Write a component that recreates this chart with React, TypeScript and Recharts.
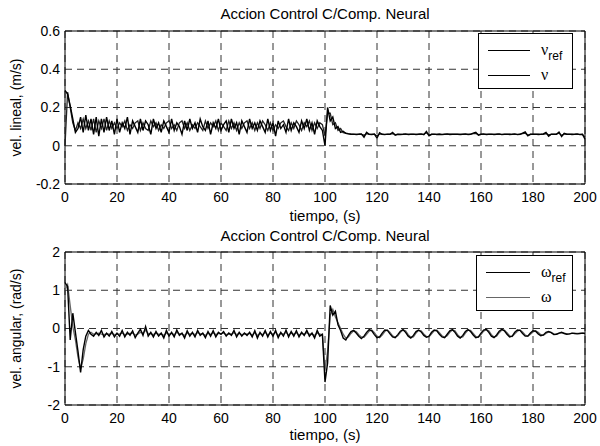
import { LineChart, Line, XAxis, YAxis, CartesianGrid, ReferenceArea } from 'recharts';

// tiempo en segundos, una muestra por segundo
const tiempo = Array.from({ length: 201 }, (_, i) => i);

// velocidad lineal de referencia y medida (m/s)
const vRef = [
  0.29, 0.27, 0.21, 0.14, 0.07, 0.09, 0.15, 0.07, 0.16, 0.08,
  0.14, 0.06, 0.15, 0.05, 0.14, 0.07, 0.15, 0.08, 0.13, 0.06,
  0.14, 0.07, 0.12, 0.09, 0.15, 0.06, 0.13, 0.1, 0.07, 0.14,
  0.08, 0.13, 0.11, 0.06, 0.14, 0.09, 0.12, 0.07, 0.13, 0.1,
  0.07, 0.14, 0.08, 0.12, 0.1, 0.06, 0.13, 0.08, 0.14, 0.09,
  0.12, 0.07, 0.14, 0.1, 0.08, 0.13, 0.06, 0.12, 0.09, 0.14,
  0.08, 0.11, 0.13, 0.07, 0.14, 0.09, 0.12, 0.06, 0.13, 0.1,
  0.07, 0.14, 0.09, 0.12, 0.08, 0.13, 0.1, 0.07, 0.14, 0.08,
  0.12, 0.05, 0.13, 0.09, 0.11, 0.07, 0.14, 0.08, 0.12, 0.1,
  0.07, 0.13, 0.09, 0.14, 0.08, 0.12, 0.06, 0.13, 0.1, 0.08,
  0.0, 0.2, 0.13, 0.15, 0.09, 0.1, 0.07, 0.075, 0.065, 0.062,
  0.06, 0.061, 0.059, 0.06, 0.062, 0.045, 0.07, 0.06, 0.059, 0.061,
  0.04, 0.068, 0.06, 0.058, 0.061, 0.06, 0.07, 0.055, 0.06, 0.059,
  0.06, 0.062, 0.058, 0.06, 0.061, 0.059, 0.06, 0.062, 0.058, 0.075,
  0.052, 0.06, 0.061, 0.059, 0.06, 0.058, 0.06, 0.062, 0.059, 0.06,
  0.061, 0.06, 0.058, 0.06, 0.062, 0.059, 0.06, 0.066, 0.07, 0.055,
  0.06, 0.062, 0.058, 0.06, 0.061, 0.059, 0.06, 0.062, 0.058, 0.06,
  0.061, 0.059, 0.06, 0.062, 0.058, 0.06, 0.066, 0.072, 0.052, 0.06,
  0.06, 0.061, 0.059, 0.06, 0.062, 0.07, 0.05, 0.06, 0.061, 0.06,
  0.072, 0.048, 0.065, 0.06, 0.061, 0.059, 0.06, 0.062, 0.058, 0.06,
  0.035,
];
const vReal = [
  0.0, 0.28, 0.2, 0.12, 0.08, 0.12, 0.09, 0.14, 0.09, 0.13,
  0.08, 0.14, 0.07, 0.13, 0.09, 0.14, 0.08, 0.13, 0.09, 0.12,
  0.09, 0.12, 0.1, 0.13, 0.08, 0.11, 0.09, 0.12, 0.13, 0.08,
  0.12, 0.09, 0.08, 0.13, 0.1, 0.12, 0.08, 0.11, 0.09, 0.12,
  0.13, 0.09, 0.11, 0.08, 0.12, 0.13, 0.09, 0.12, 0.08, 0.11,
  0.09, 0.12, 0.1, 0.08, 0.13, 0.09, 0.12, 0.1, 0.13, 0.08,
  0.12, 0.1, 0.08, 0.13, 0.09, 0.12, 0.08, 0.12, 0.09, 0.12,
  0.13, 0.09, 0.12, 0.08, 0.12, 0.09, 0.13, 0.11, 0.08, 0.12,
  0.08, 0.11, 0.09, 0.12, 0.13, 0.1, 0.08, 0.12, 0.09, 0.13,
  0.11, 0.08, 0.12, 0.1, 0.13, 0.08, 0.12, 0.09, 0.12, 0.11,
  0.05, 0.17, 0.17, 0.11, 0.12, 0.08, 0.09, 0.068, 0.066, 0.063,
  0.061, 0.06, 0.06, 0.061, 0.06, 0.055, 0.063, 0.06, 0.06, 0.06,
  0.052, 0.062, 0.06, 0.06, 0.06, 0.061, 0.063, 0.058, 0.06, 0.06,
  0.06, 0.06, 0.061, 0.06, 0.06, 0.06, 0.061, 0.06, 0.06, 0.068,
  0.057, 0.06, 0.06, 0.06, 0.061, 0.06, 0.06, 0.06, 0.061, 0.06,
  0.06, 0.06, 0.061, 0.06, 0.06, 0.06, 0.061, 0.063, 0.065, 0.058,
  0.06, 0.06, 0.061, 0.06, 0.06, 0.06, 0.061, 0.06, 0.06, 0.06,
  0.06, 0.061, 0.06, 0.06, 0.06, 0.061, 0.063, 0.066, 0.056, 0.06,
  0.06, 0.06, 0.061, 0.06, 0.06, 0.064, 0.057, 0.06, 0.06, 0.061,
  0.066, 0.054, 0.062, 0.06, 0.06, 0.061, 0.06, 0.06, 0.06, 0.06,
  0.045,
];

// velocidad angular de referencia y medida (rad/s)
const wRef = [
  1.2, 1.1, -0.3, 0.4, -0.1, -0.6, -1.15, -0.55, -0.2, -0.05,
  -0.15, -0.2, -0.1, -0.18, -0.05, -0.22, -0.12, -0.2, -0.08, -0.22,
  -0.12, -0.2, -0.05, -0.22, -0.1, -0.18, -0.06, -0.24, -0.12, -0.02,
  -0.18, 0.05, -0.2, -0.1, -0.22, -0.08, -0.2, -0.12, -0.25, -0.05,
  -0.2, -0.1, -0.22, -0.04, -0.18, -0.12, -0.25, -0.06, -0.2, -0.1,
  -0.22, -0.05, -0.18, -0.12, -0.24, -0.08, -0.2, -0.06, -0.22, -0.1,
  -0.15, -0.08, -0.2, -0.12, -0.18, -0.05, -0.22, -0.1, -0.2, -0.12,
  -0.18, -0.1, -0.22, -0.06, -0.25, -0.1, -0.2, -0.05, -0.22, -0.08,
  -0.2, -0.05, -0.24, -0.1, -0.2, -0.04, -0.22, -0.08, -0.2, -0.06,
  -0.22, -0.1, -0.18, -0.05, -0.2, -0.12, -0.25, -0.05, -0.2, -0.15,
  -1.4, -0.9, 0.6, 0.35, 0.45, 0.1, -0.05, -0.25, -0.3, -0.18,
  -0.08, -0.05, -0.12, -0.2, -0.26, -0.2, -0.1, -0.03, -0.06, -0.16,
  -0.24, -0.22, -0.12, -0.04, -0.05, -0.14, -0.22, -0.24, -0.16, -0.07,
  -0.03, -0.1, -0.2, -0.25, -0.18, -0.08, -0.04, -0.09, -0.18, -0.23,
  -0.2, -0.1, -0.04, -0.06, -0.15, -0.22, -0.24, -0.15, -0.06, -0.03,
  -0.1, -0.2, -0.25, -0.18, -0.08, -0.03, -0.08, -0.17, -0.24, -0.22,
  -0.12, -0.04, -0.02, -0.1, -0.2, -0.24, -0.17, -0.07, -0.02, -0.06,
  -0.15, -0.22, -0.2, -0.1, -0.04, -0.05, -0.13, -0.2, -0.2, -0.12,
  -0.06, -0.07, -0.14, -0.19, -0.17, -0.1, -0.08, -0.11, -0.16, -0.15,
  -0.12, -0.1, -0.13, -0.15, -0.14, -0.12, -0.13, -0.14, -0.13, -0.12,
  -0.13,
];
const wReal = [
  1.0, 1.15, 0.6, 0.05, -0.3, -0.75, -1.05, -0.8, -0.4, -0.15,
  -0.1, -0.15, -0.14, -0.12, -0.15, -0.16, -0.14, -0.15, -0.13, -0.16,
  -0.15, -0.14, -0.12, -0.16, -0.15, -0.13, -0.12, -0.17, -0.15, -0.1,
  -0.12, -0.05, -0.13, -0.14, -0.16, -0.12, -0.15, -0.14, -0.18, -0.12,
  -0.15, -0.13, -0.16, -0.1, -0.14, -0.14, -0.18, -0.12, -0.15, -0.13,
  -0.16, -0.11, -0.14, -0.14, -0.18, -0.12, -0.16, -0.11, -0.16, -0.13,
  -0.14, -0.12, -0.16, -0.14, -0.15, -0.11, -0.16, -0.13, -0.16, -0.14,
  -0.15, -0.13, -0.17, -0.11, -0.18, -0.13, -0.16, -0.1, -0.17, -0.12,
  -0.15, -0.1, -0.18, -0.13, -0.15, -0.1, -0.17, -0.12, -0.15, -0.11,
  -0.17, -0.13, -0.15, -0.11, -0.15, -0.14, -0.18, -0.12, -0.15, -0.16,
  -1.1, -0.6, 0.35, 0.5, 0.3, 0.15, 0.0, -0.15, -0.25, -0.22,
  -0.13, -0.06, -0.08, -0.16, -0.22, -0.23, -0.15, -0.07, -0.04, -0.11,
  -0.2, -0.24, -0.17, -0.08, -0.04, -0.1, -0.19, -0.23, -0.19, -0.1,
  -0.04, -0.06, -0.16, -0.23, -0.22, -0.12, -0.05, -0.06, -0.14, -0.21,
  -0.22, -0.14, -0.06, -0.04, -0.11, -0.19, -0.23, -0.19, -0.1, -0.04,
  -0.06, -0.16, -0.23, -0.22, -0.12, -0.05, -0.05, -0.13, -0.21, -0.23,
  -0.16, -0.07, -0.03, -0.06, -0.16, -0.22, -0.2, -0.11, -0.04, -0.04,
  -0.11, -0.19, -0.21, -0.14, -0.07, -0.04, -0.09, -0.17, -0.2, -0.15,
  -0.09, -0.06, -0.1, -0.16, -0.18, -0.13, -0.09, -0.1, -0.14, -0.15,
  -0.13, -0.11, -0.12, -0.14, -0.14, -0.13, -0.13, -0.13, -0.13, -0.12,
  -0.12,
];

const ticksT = [0, 20, 40, 60, 80, 100, 120, 140, 160, 180, 200];
const ticksV = [-0.2, 0, 0.2, 0.4, 0.6];
const ticksW = [-2, -1, 0, 1, 2];

const SANS = '"Liberation Sans", Arial, Helvetica, sans-serif';
const SERIF = '"Liberation Serif", "DejaVu Serif", serif';

const datosV = tiempo.map((t, i) => ({ t, ref: vRef[i], real: vReal[i] }));
const datosW = tiempo.map((t, i) => ({ t, ref: wRef[i], real: wReal[i] }));

interface LegendItem { sym: string; color: string; }

function LegendBox({ items, left, top, width }: { items: LegendItem[]; left: number; top: number; width: number }) {
  return (
    <div style={{
      position: 'absolute', left, top, width, height: 56, boxSizing: 'border-box',
      border: '1px solid #000', background: '#fff',
    }}>
      {items.map((it, i) => (
        <div key={i} style={{ position: 'absolute', left: 9, top: 9 + i * 25, height: 14, display: 'flex', alignItems: 'center' }}>
          <svg width={width - 53} height={14} style={{ display: 'block' }}>
            <line x1={0} x2={width - 53} y1={7.5} y2={7.5} stroke={it.color} strokeWidth={1} />
          </svg>
          <span style={{ marginLeft: 11, fontFamily: SERIF, fontSize: 16, lineHeight: '14px', whiteSpace: 'nowrap' }}>
            {it.sym}
            {i === 0 && <span style={{ fontFamily: SANS, fontSize: 12, position: 'relative', top: 5 }}>ref</span>}
          </span>
        </div>
      ))}
    </div>
  );
}

function Titulo({ top }: { top: number }) {
  return (
    <div style={{
      position: 'absolute', left: 65, width: 520, top, textAlign: 'center',
      fontFamily: SANS, fontSize: 15, lineHeight: '15px', color: '#000',
    }}>
      Accion Control C/Comp. Neural
    </div>
  );
}

function Panel({ data, yTicks, yLabel, height, top, bottomOffset, realColor }: {
  data: { t: number; ref: number; real: number }[];
  yTicks: number[];
  yLabel: string;
  height: number;
  top: number;
  bottomOffset: number;
  realColor: string;
}) {
  const y0 = yTicks[0];
  const y1 = yTicks[yTicks.length - 1];
  return (
    <LineChart width={600} height={height} data={data} margin={{ top, right: 15, bottom: 0, left: 0 }}>
      <CartesianGrid stroke="#333" strokeDasharray="7 5" strokeWidth={1} />
      <XAxis
        type="number" dataKey="t" domain={[0, 200]} ticks={ticksT} interval={0}
        axisLine={false} tickLine={false} tickSize={0} tickMargin={8}
        height={height - top - 153}
        tick={{ fill: '#000', fontSize: 14, fontFamily: SANS }}
        label={{ value: 'tiempo, (s)', position: 'insideBottom', offset: bottomOffset, fill: '#000', fontSize: 15, fontFamily: SANS }}
      />
      <YAxis
        type="number" domain={[y0, y1]} ticks={yTicks} interval={0} allowDataOverflow
        axisLine={false} tickLine={false} tickSize={0} tickMargin={5} width={65}
        tick={{ fill: '#000', fontSize: 14, fontFamily: SANS }}
        label={{ value: yLabel, angle: -90, position: 'insideLeft', offset: 16, fill: '#000', fontSize: 14, fontFamily: SANS, style: { textAnchor: 'middle' } }}
      />
      <Line type="linear" dataKey="real" stroke={realColor} strokeWidth={1.3} dot={false} isAnimationActive={false} />
      <Line type="linear" dataKey="ref" stroke="#000" strokeWidth={1.4} dot={false} isAnimationActive={false} />
      <ReferenceArea x1={0} x2={200} y1={y0} y2={y1} fill="none" stroke="#000" strokeWidth={1} ifOverflow="visible" />
    </LineChart>
  );
}

export default function App() {
  return (
    <div style={{ position: 'absolute', left: 0, top: 0, width: 600, height: 446, background: '#fff', overflow: 'hidden' }}>
      <div style={{ position: 'absolute', left: 0, top: 0 }}>
        <Panel data={datosV} yTicks={ticksV} yLabel="vel. lineal, (m/s)" height={226} top={31} bottomOffset={5} realColor="#222" />
      </div>
      <div style={{ position: 'absolute', left: 0, top: 226 }}>
        <Panel data={datosW} yTicks={ticksW} yLabel="vel. angular, (rad/s)" height={220} top={26} bottomOffset={6} realColor="#666" />
      </div>
      <Titulo top={6} />
      <Titulo top={228} />
      <LegendBox left={478} top={33} width={95} items={[{ sym: 'ν', color: '#000' }, { sym: 'ν', color: '#000' }]} />
      <LegendBox left={476} top={255} width={97} items={[{ sym: 'ω', color: '#000' }, { sym: 'ω', color: '#666' }]} />
    </div>
  );
}
